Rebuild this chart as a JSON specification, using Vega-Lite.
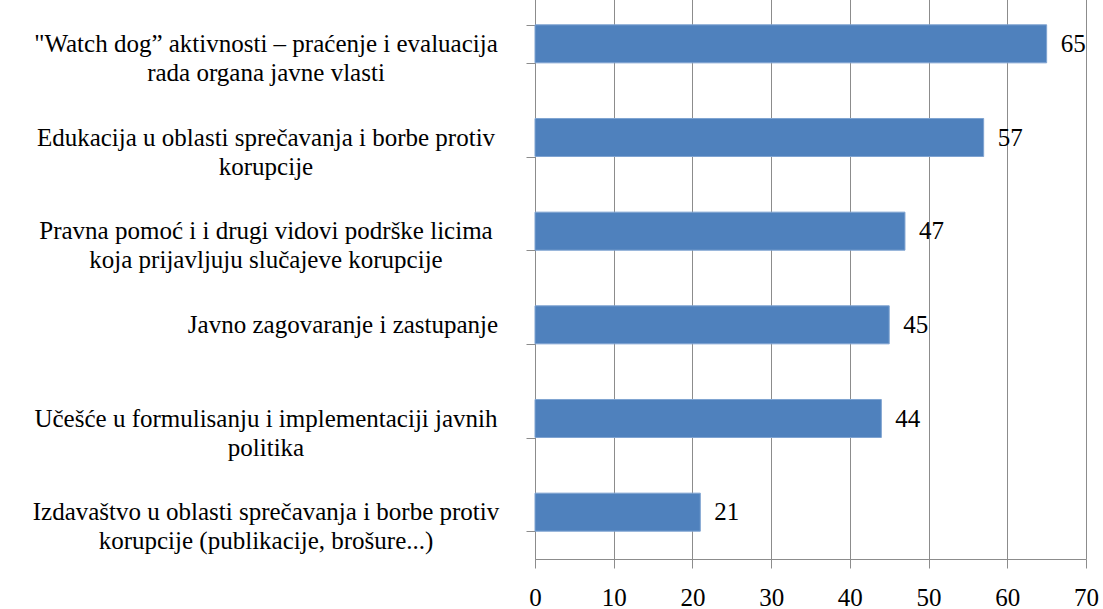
{
  "$schema": "https://vega.github.io/schema/vega-lite/v6.json",
  "width": 551,
  "height": 562,
  "autosize": "none",
  "padding": {"left": 535, "top": -3, "right": 17, "bottom": 50},
  "background": "white",
  "config": {"view": {"stroke": null}, "font": "Liberation Serif"},
  "data": {
    "values": [
      {"kategorija": "\"Watch dog\u201d aktivnosti \u2013 praćenje i evaluacija|rada organa javne vlasti", "vrednost": 65},
      {"kategorija": "Edukacija u oblasti sprečavanja i borbe protiv|korupcije", "vrednost": 57},
      {"kategorija": "Pravna pomoć i i drugi vidovi podrške licima|koja prijavljuju slučajeve korupcije", "vrednost": 47},
      {"kategorija": "Javno zagovaranje i zastupanje", "vrednost": 45},
      {"kategorija": "Učešće u formulisanju i implementaciji javnih|politika", "vrednost": 44},
      {"kategorija": "Izdavaštvo u oblasti sprečavanja i borbe protiv|korupcije (publikacije, brošure...)", "vrednost": 21}
    ]
  },
  "encoding": {
    "y": {
      "field": "kategorija",
      "type": "nominal",
      "sort": null,
      "scale": {"paddingInner": 0.594, "paddingOuter": 0.297},
      "axis": {
        "title": null,
        "labels": false,
        "tickBand": "extent",
        "tickSize": 9,
        "tickColor": "#8c8c8c",
        "domainColor": "#8c8c8c",
        "grid": false
      }
    },
    "x": {
      "field": "vrednost",
      "type": "quantitative",
      "scale": {"domain": [0, 70], "nice": false},
      "axis": {
        "title": null,
        "values": [0, 10, 20, 30, 40, 50, 60, 70],
        "grid": true,
        "gridColor": "#8c8c8c",
        "gridOpacity": 1,
        "tickSize": 9,
        "tickColor": "#8c8c8c",
        "domainColor": "#8c8c8c",
        "labelFontSize": 25,
        "labelFont": "Liberation Serif",
        "labelColor": "black",
        "labelPadding": 17,
        "labelFlush": false,
        "labelOverlap": false
      }
    }
  },
  "layer": [
    {"mark": {"type": "bar", "color": "#4F81BD", "stroke": "#7FA3D1", "strokeWidth": 1}},
    {
      "mark": {"type": "text", "align": "left", "baseline": "middle", "dx": 14, "fontSize": 25, "font": "Liberation Serif", "color": "black"},
      "encoding": {"text": {"field": "vrednost", "type": "quantitative"}}
    },
    {
      "transform": [{"filter": "indexof(datum.kategorija, 'Javno') != 0"}],
      "mark": {"type": "text", "align": "center", "baseline": "middle", "dx": -269, "fontSize": 25, "lineHeight": 29, "lineBreak": "|", "font": "Liberation Serif", "color": "black", "limit": 0},
      "encoding": {"x": {"datum": 0, "type": "quantitative"}, "text": {"field": "kategorija", "type": "nominal"}}
    },
    {
      "transform": [{"filter": "indexof(datum.kategorija, 'Javno') == 0"}],
      "mark": {"type": "text", "align": "center", "baseline": "middle", "dx": -192, "fontSize": 25, "lineHeight": 29, "lineBreak": "|", "font": "Liberation Serif", "color": "black", "limit": 0},
      "encoding": {"x": {"datum": 0, "type": "quantitative"}, "text": {"field": "kategorija", "type": "nominal"}}
    }
  ]
}
